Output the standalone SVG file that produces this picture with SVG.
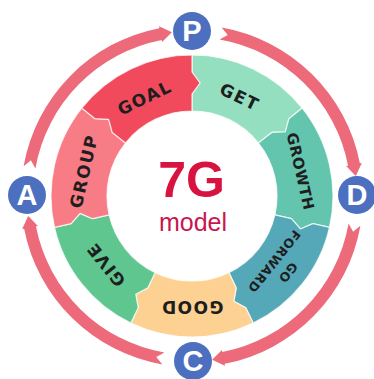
<svg xmlns="http://www.w3.org/2000/svg" xmlns:xlink="http://www.w3.org/1999/xlink" width="374" height="379" viewBox="0 0 374 379">
<style>
.seg{stroke:#fff;stroke-width:1.2;stroke-opacity:.75;stroke-linejoin:round}
.lbl{font-family:"DejaVu Sans","Liberation Sans",sans-serif;font-weight:bold;font-size:17px;letter-spacing:1.5px;fill:#1e1e1e;text-anchor:middle;dominant-baseline:central}
.sm{font-size:12.5px;letter-spacing:0.6px}
.badge{fill:#4d6fc0}
.bl{font-family:"Liberation Sans",Arial,sans-serif;font-weight:bold;font-size:29px;fill:#fff;text-anchor:middle;dominant-baseline:central}
.arc{fill:#ec6a79}
</style>
<defs>
<path id="seg" d="M0,-141 A141,141 0 0 1 110.24,-87.91 L96.95,-77.31 L93.34,-64.2 L79.75,-63.6 L66.46,-53 A85,85 0 0 0 0,-85 L0,-102 L8,-113 L0,-124 Z"/>
<path id="arcshape" d="M168.4,29.69 A171,171 0 0 1 32.63,167.86 L32.99,169.82 L20.11,163.77 L29.98,154.11 L30.34,156.08 A159,159 0 0 0 156.58,27.61 L161.09,35.71 Z"/>
</defs>
<rect width="374" height="379" fill="#fff"/>
<g id="connectors" transform="translate(192,196)">
<use xlink:href="#arcshape" href="#arcshape" class="arc" transform="rotate(-90)"/>
<use xlink:href="#arcshape" href="#arcshape" class="arc"/>
<use xlink:href="#arcshape" href="#arcshape" class="arc" transform="rotate(90)"/>
<use xlink:href="#arcshape" href="#arcshape" class="arc" transform="rotate(180)"/>
</g>
<g transform="translate(192,196)">
<g id="node-get">
<use xlink:href="#seg" href="#seg" class="seg" fill="#95dfc1"/>
<text class="lbl" transform="rotate(25.71)" x="0" y="-110">GET</text>
</g>
<g id="node-growth" transform="rotate(51.43)">
<use xlink:href="#seg" href="#seg" class="seg" fill="#63c5ae"/>
<text class="lbl" transform="rotate(25.71)" x="0" y="-111" style="font-size:15px;letter-spacing:0.5px">GROWTH</text>
</g>
<g id="node-goforward" transform="rotate(102.86)">
<use xlink:href="#seg" href="#seg" class="seg" fill="#55a8b7"/>
<text class="lbl sm" transform="rotate(25.71)" x="0" y="-123">GO</text>
<text class="lbl sm" transform="rotate(25.71)" x="0" y="-105">FORWARD</text>
</g>
<g id="node-good" transform="rotate(154.29)">
<use xlink:href="#seg" href="#seg" class="seg" fill="#fcd192"/>
<text class="lbl" transform="rotate(25.71)" x="0" y="-111">GOOD</text>
</g>
<g id="node-give" transform="rotate(205.71)">
<use xlink:href="#seg" href="#seg" class="seg" fill="#5fc68f"/>
<text class="lbl" transform="rotate(25.71)" x="0" y="-110">GIVE</text>
</g>
<g id="node-group" transform="rotate(257.14)">
<use xlink:href="#seg" href="#seg" class="seg" fill="#f77c85"/>
<text class="lbl" transform="rotate(25.71)" x="0" y="-111">GROUP</text>
</g>
<g id="node-goal" transform="rotate(308.57)">
<use xlink:href="#seg" href="#seg" class="seg" fill="#f24a5d"/>
<text class="lbl" transform="rotate(25.71)" x="0" y="-109">GOAL</text>
</g>
</g>
<g id="node-center">
<text x="191.5" y="197" font-family="'Liberation Sans',Arial,sans-serif" font-weight="bold" font-size="50" fill="#d8133f" text-anchor="middle">7G</text>
<text x="193" y="231" font-family="'Liberation Sans',Arial,sans-serif" font-size="25" fill="#c8174f" text-anchor="middle">model</text>
</g>
<g id="node-P"><circle class="badge" cx="192" cy="31" r="19"/><text class="bl" x="192" y="31">P</text></g>
<g id="node-D"><circle class="badge" cx="357" cy="195" r="19"/><text class="bl" x="357" y="195">D</text></g>
<g id="node-C"><circle class="badge" cx="193" cy="361" r="19"/><text class="bl" x="193" y="361">C</text></g>
<g id="node-A"><circle class="badge" cx="27" cy="195" r="19"/><text class="bl" x="27" y="195">A</text></g>
</svg>
